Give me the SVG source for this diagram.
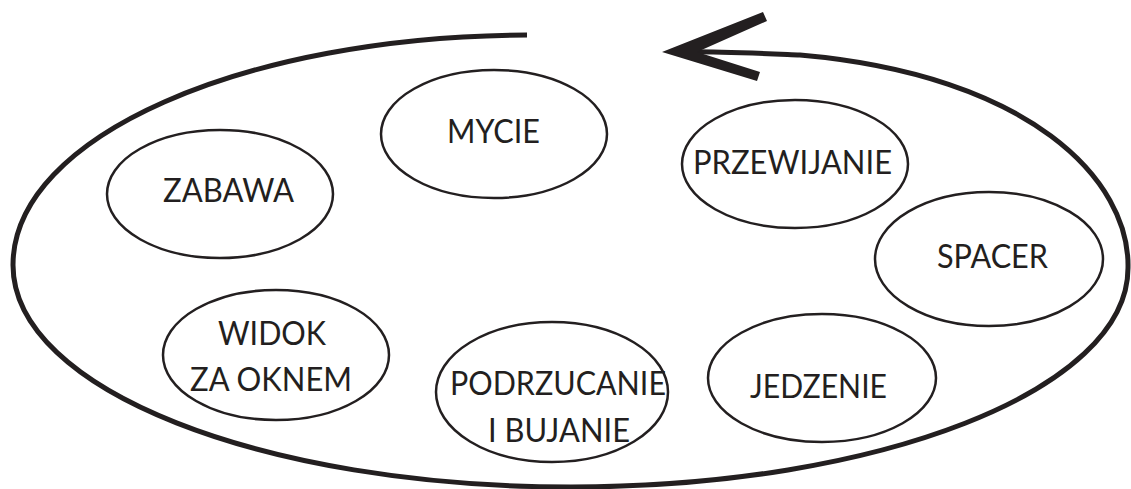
<svg xmlns="http://www.w3.org/2000/svg" width="1131" height="489" viewBox="0 0 1131 489">
<style>
.node ellipse{fill:#ffffff;stroke:#231f20;stroke-width:2.5}
.node text{font-family:Lato,"Open Sans","Liberation Sans",sans-serif;font-size:32px;fill:#231f20;text-anchor:middle}
.loop{fill:none;stroke:#231f20;stroke-width:5;stroke-linecap:butt}
.head{fill:#231f20}
</style>
<rect width="1131" height="489" fill="#ffffff"/>
<g id="connectors">
<path class="loop" d="M527,35 C245,36 13,136 13,265 C13,390 263,487 571,487 C879,487 1128,390 1128,268 C1130,180 1030,75 800,55 C750,53 705,51 680,52"/>
<polygon class="head" points="662,52 763,12 767,21 697,52 760,72 757,81"/>
</g>
<g id="zabawa" class="node">
<ellipse cx="220" cy="194" rx="113" ry="64"/>
<text x="228.5" y="202" textLength="131" lengthAdjust="spacingAndGlyphs">ZABAWA</text>
</g>
<g id="mycie" class="node">
<ellipse cx="494" cy="134" rx="113" ry="64"/>
<text x="493.5" y="143" textLength="93" lengthAdjust="spacingAndGlyphs">MYCIE</text>
</g>
<g id="przewijanie" class="node">
<ellipse cx="795" cy="164" rx="113" ry="64"/>
<text x="792.5" y="174" textLength="199" lengthAdjust="spacingAndGlyphs">PRZEWIJANIE</text>
</g>
<g id="spacer" class="node">
<ellipse cx="989" cy="259" rx="114" ry="67"/>
<text x="992.5" y="268" textLength="111" lengthAdjust="spacingAndGlyphs">SPACER</text>
</g>
<g id="widok" class="node">
<ellipse cx="276" cy="355" rx="113" ry="65"/>
<text x="272" y="345" textLength="108" lengthAdjust="spacingAndGlyphs">WIDOK</text>
<text x="271" y="391" textLength="162" lengthAdjust="spacingAndGlyphs">ZA OKNEM</text>
</g>
<g id="podrzucanie" class="node">
<ellipse cx="552" cy="392" rx="116" ry="70"/>
<text x="558" y="395" textLength="216" lengthAdjust="spacingAndGlyphs">PODRZUCANIE</text>
<text x="559" y="442" textLength="142" lengthAdjust="spacingAndGlyphs">I BUJANIE</text>
</g>
<g id="jedzenie" class="node">
<ellipse cx="822" cy="378" rx="114" ry="64"/>
<text x="818.5" y="398" textLength="137" lengthAdjust="spacingAndGlyphs">JEDZENIE</text>
</g>
</svg>
